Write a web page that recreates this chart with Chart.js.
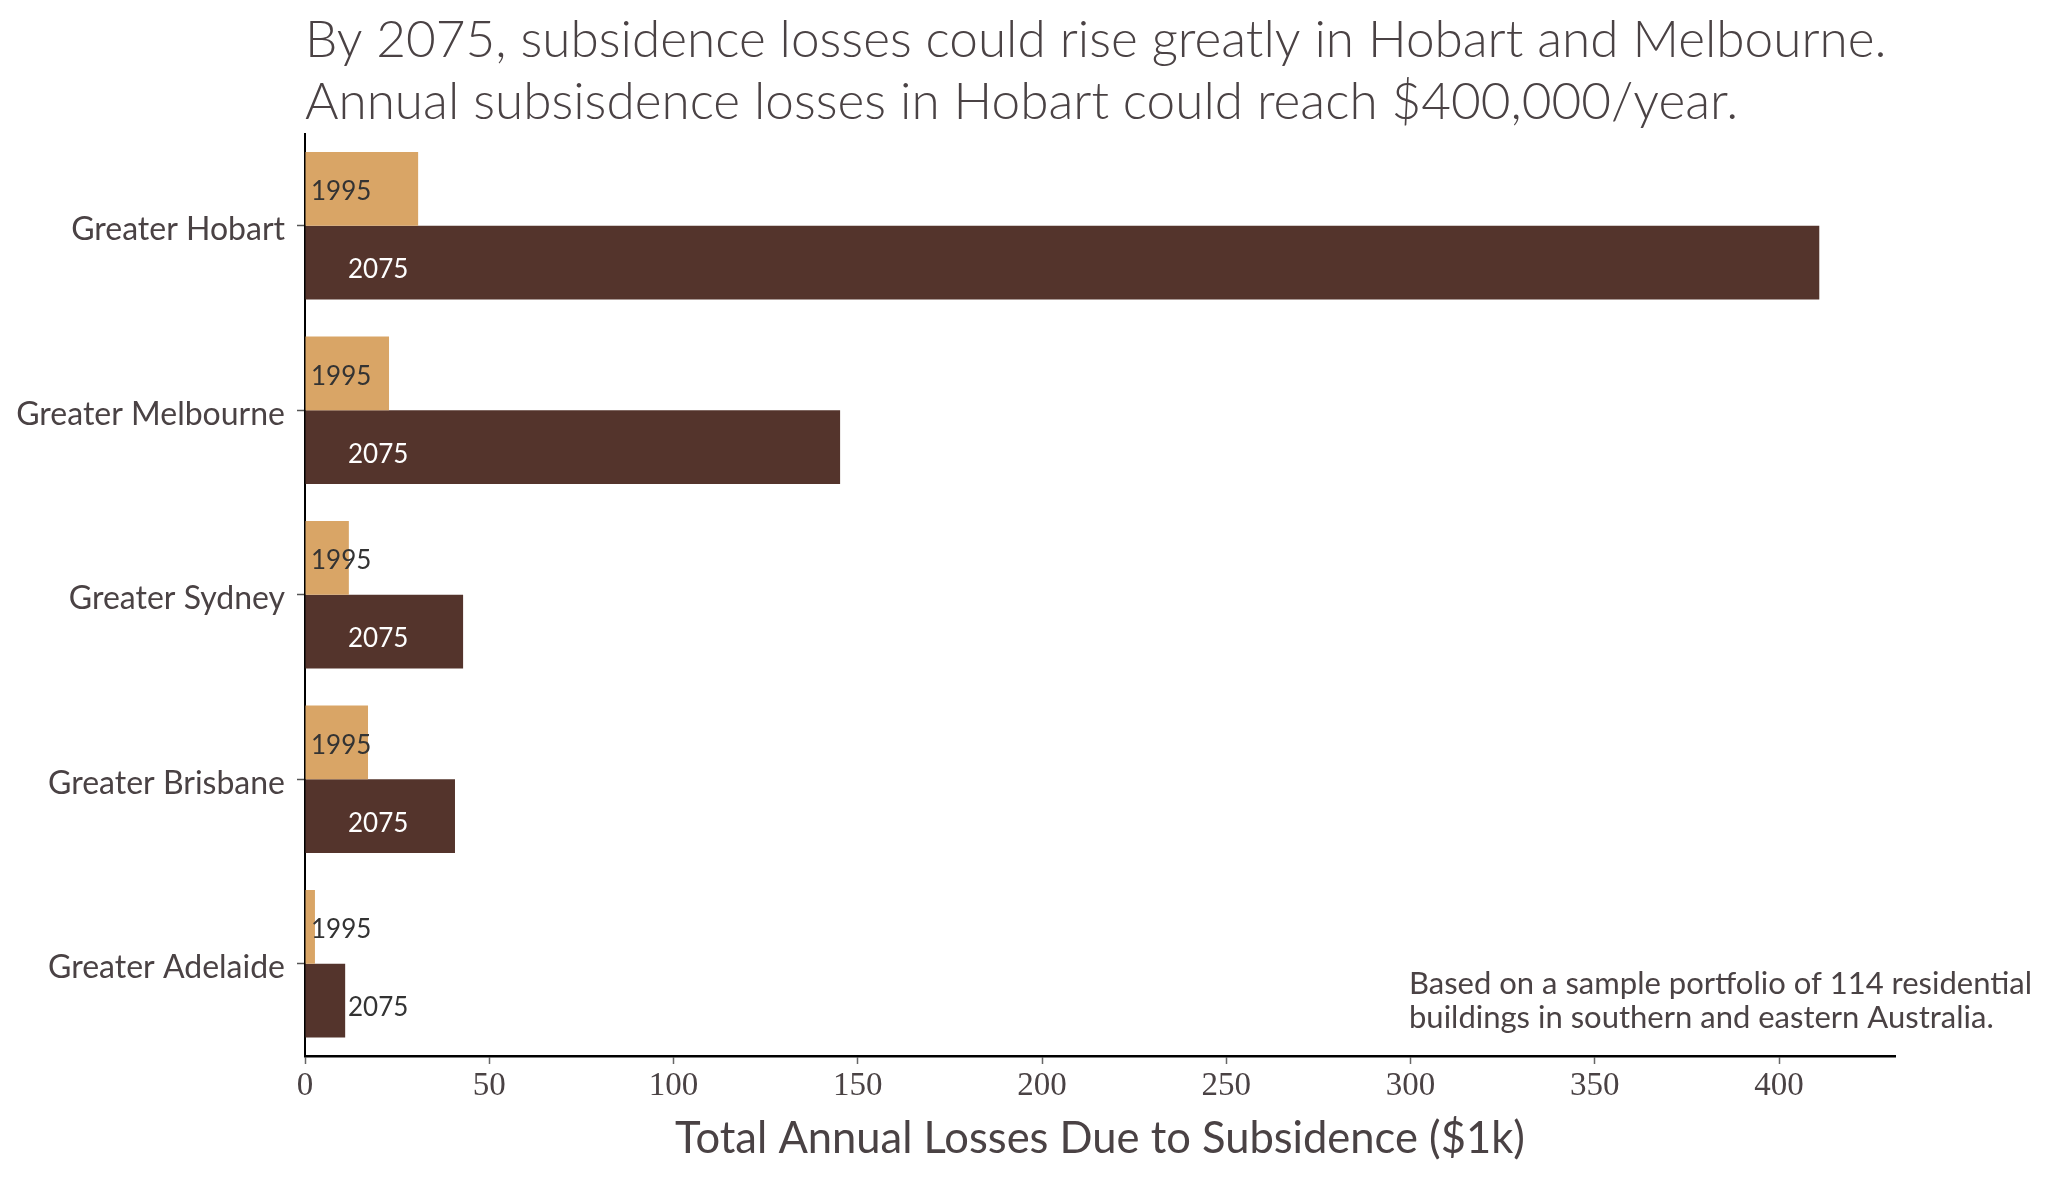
<!DOCTYPE html>
<html>
<head>
<meta charset="utf-8">
<script src="https://cdn.jsdelivr.net/npm/chart.js@4.4.1/dist/chart.umd.min.js"></script>
<style>
  html, body { margin: 0; padding: 0; background: #fff; }
  #wrap { width: 2048px; height: 1179px; }
</style>
</head>
<body>
<div id="wrap"><canvas id="myChart" width="2048" height="1179"></canvas></div>
<script>
// data ($1k per year)
const cities = ['Greater Hobart', 'Greater Melbourne', 'Greater Sydney', 'Greater Brisbane', 'Greater Adelaide'];
const losses1995 = [30.7, 22.8, 11.9, 17.1, 2.7];
const losses2075 = [410.9, 145.2, 42.9, 40.7, 10.9];
const seriesNames = ['1995', '2075'];
const xTicks = [0, 50, 100, 150, 200, 250, 300, 350, 400];

const titleLines = [
    'By 2075, subsidence losses could rise greatly in Hobart and Melbourne.',
    'Annual subsisdence losses in Hobart could reach $400,000/year.'
];
const noteLines = [
    'Based on a sample portfolio of 114 residential',
    'buildings in southern and eastern Australia.'
];

const textColor = '#4a4244';
const sansFont = 'Lato';

// matplotlib-style 5% margin on the value axis
const xMax = Math.max(...losses2075) * 1.05;

const ctx = document.getElementById('myChart').getContext('2d');
const myChart = new Chart(ctx, {
    type: 'bar',
    data: {
        labels: cities,
        datasets: [{
            label: seriesNames[0],
            data: losses1995,
            backgroundColor: '#d9a566',
            borderWidth: 0
        }, {
            label: seriesNames[1],
            data: losses2075,
            backgroundColor: '#54342c',
            borderWidth: 0
        }]
    },
    options: {
        indexAxis: 'y',
        responsive: false,
        devicePixelRatio: 1,
        animation: false,
        datasets: {
            bar: {
                barPercentage: 1.0,
                categoryPercentage: 0.8
            }
        },
        layout: {
            padding: { left: 0, right: 153, top: 0, bottom: 0 }
        },
        scales: {
            x: {
                min: 0,
                max: xMax,
                afterBuildTicks: (scale) => {
                    scale.ticks = xTicks.map(v => ({ value: v }));
                },
                afterFit: (scale) => { scale.height = 123; },
                grid: {
                    display: true,
                    drawOnChartArea: false,
                    drawTicks: true,
                    tickLength: 8,
                    tickColor: '#666',
                    tickWidth: 1.5
                },
                border: { display: true, color: '#000', width: 2.5 },
                ticks: {
                    color: textColor,
                    padding: 3,
                    font: { family: 'Liberation Serif', size: 33 }
                },
                title: {
                    display: true,
                    text: 'Total Annual Losses Due to Subsidence ($1k)',
                    color: textColor,
                    font: { family: sansFont, size: 43.5, lineHeight: 1.2 },
                    padding: { top: 0, bottom: 14 }
                }
            },
            y: {
                afterFit: (scale) => { scale.width = 305; },
                grid: {
                    display: true,
                    offset: false,
                    drawOnChartArea: false,
                    drawTicks: true,
                    tickLength: 8,
                    tickColor: '#555',
                    tickWidth: 1.5
                },
                border: { display: true, color: '#000', width: 2 },
                ticks: {
                    color: textColor,
                    padding: 12,
                    labelOffset: 4,
                    font: { family: sansFont, size: 32 }
                }
            }
        },
        plugins: {
            legend: { display: false },
            tooltip: { enabled: false },
            title: {
                display: true,
                fullSize: false,
                align: 'start',
                text: titleLines,
                color: textColor,
                font: { family: sansFont, size: 51.3, weight: 300, lineHeight: 1.2086 },
                padding: { top: 9.5, bottom: 0 }
            }
        }
    },
    plugins: [{
        id: 'background-colour',
        beforeDraw: (chart) => {
            const c = chart.ctx;
            c.save();
            c.fillStyle = 'white';
            c.fillRect(0, 0, chart.width, chart.height);
            c.restore();
        }
    }, {
        id: 'bar-labels',
        afterDatasetsDraw: (chart) => {
            const c = chart.ctx;
            const x0 = chart.scales.x.getPixelForValue(0);
            c.save();
            c.font = '26px ' + sansFont;
            c.textBaseline = 'middle';
            c.textAlign = 'left';
            chart.data.datasets.forEach((ds, i) => {
                const meta = chart.getDatasetMeta(i);
                meta.data.forEach((bar) => {
                    if (i === 0) {
                        c.fillStyle = '#333333';
                        c.fillText(ds.label, x0 + 6, bar.y + 3);
                    } else {
                        const tx = x0 + 43;
                        const w = c.measureText(ds.label).width;
                        c.fillStyle = (bar.x > tx + w) ? '#ffffff' : '#333333';
                        c.fillText(ds.label, tx, bar.y + 7);
                    }
                });
            });
            c.restore();
        }
    }, {
        id: 'note',
        afterDraw: (chart) => {
            const c = chart.ctx;
            c.save();
            c.font = '31px ' + sansFont;
            c.fillStyle = textColor;
            c.textBaseline = 'alphabetic';
            c.textAlign = 'left';
            c.fillText(noteLines[0], 1409, 994);
            c.fillText(noteLines[1], 1409, 1028);
            c.restore();
        }
    }]
});
</script>
</body>
</html>
